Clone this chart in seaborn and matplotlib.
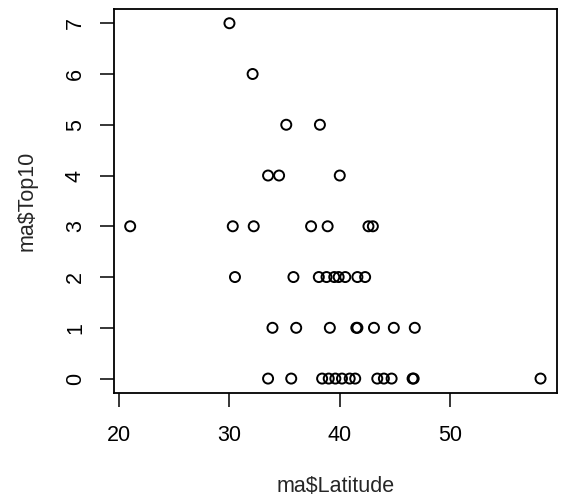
import numpy as np
import pandas as pd
import matplotlib
matplotlib.use("Agg")
import matplotlib.pyplot as plt
import seaborn as sns

# latitude values, grouped by Top10 count
lat_0 = [33.5, 35.6, 38.4, 39.0, 39.6, 40.2, 40.9, 41.4, 43.4, 44.0, 44.7, 46.6, 46.7, 58.2]
lat_1 = [33.9, 36.05, 39.1, 41.5, 41.6, 43.1, 44.9, 46.8]
lat_2 = [30.5, 35.8, 38.1, 38.8, 39.5, 39.9, 40.5, 41.6, 42.3]
lat_3 = [21.0, 30.3, 32.2, 37.4, 38.9, 42.6, 43.0]
lat_4 = [33.5, 34.5, 40.0]
lat_5 = [35.15, 38.2]
lat_6 = [32.1]
lat_7 = [30.0]

x_ticks = [20, 30, 40, 50]
y_ticks = [0, 1, 2, 3, 4, 5, 6, 7]

groups = [lat_0, lat_1, lat_2, lat_3, lat_4, lat_5, lat_6, lat_7]
rows = []
for top, lats in enumerate(groups):
    for la in lats:
        rows.append({"Latitude": la, "Top10": top})
ma = pd.DataFrame(rows)

sns.set_style("ticks")
plt.rcParams["font.family"] = ["Liberation Sans", "DejaVu Sans"]

fig, ax = plt.subplots(figsize=(5.66, 5.01), dpi=100)
fig.subplots_adjust(left=0.201, right=0.984, top=0.982, bottom=0.216)

sns.scatterplot(data=ma, x="Latitude", y="Top10", ax=ax, marker="o",
                facecolor="none", edgecolor="black", linewidth=1.4, s=52)

# R style 4% padding on the data range
xr = ma["Latitude"].max() - ma["Latitude"].min()
ax.set_xlim(ma["Latitude"].min() - 0.04 * xr, ma["Latitude"].max() + 0.04 * xr)
ax.set_ylim(-0.28, 7.28)

ax.set_xticks(x_ticks)
ax.set_yticks(y_ticks)
ax.tick_params(axis="both", labelsize=15.5, length=10, width=1.1, colors="black")
ax.tick_params(axis="x", pad=13)
ax.tick_params(axis="y", pad=10, labelrotation=90)
for t in ax.get_yticklabels():
    t.set_va("center")

for s in ax.spines.values():
    s.set_visible(True)
    s.set_linewidth(1.3)
    s.set_color("black")

ax.set_xlabel("ma$Latitude", fontsize=15.5, labelpad=22)
ax.set_ylabel("ma$Top10", fontsize=15.5, labelpad=20)

fig.savefig("out.png", dpi=100, facecolor="white")
